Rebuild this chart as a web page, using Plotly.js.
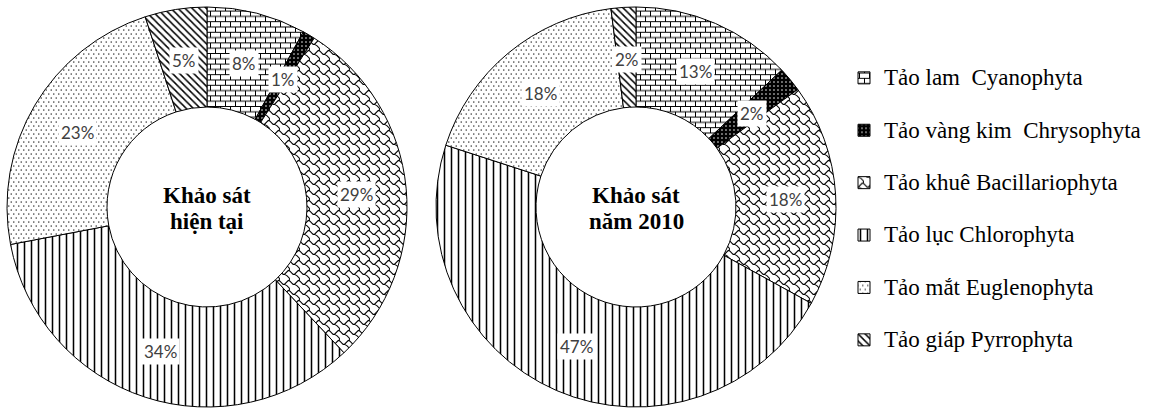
<!DOCTYPE html>
<html>
<head>
<meta charset="utf-8">
<script src="https://cdn.plot.ly/plotly-3.0.1.min.js"></script>
<style>
  html, body { margin: 0; padding: 0; background: #fff; }
  #chart { width: 1155px; height: 410px; }
</style>
</head>
<body>
<div id="chart"></div>
<script>
// Algae groups, in clockwise order from 12 o'clock
const categories = [
  'Tảo lam  Cyanophyta',
  'Tảo vàng kim  Chrysophyta',
  'Tảo khuê Bacillariophyta',
  'Tảo lục Chlorophyta',
  'Tảo mắt Euglenophyta',
  'Tảo giáp Pyrrophyta'
];
// Share of species (%) in each survey
const currentValues = [8, 1, 29, 34, 23, 5];
const values2010 = [13, 2, 18, 47, 18, 2];
const surveyTitles = [['Khảo sát', 'hiện tại'], ['Khảo sát', 'năm 2010']];

const W = 1155, H = 410;
const HOLE = 0.5;
// pixel boxes of the two rings
const boxes = [
  { x0: 7, x1: 407, y0: 7, y1: 407 },
  { x0: 436, x1: 836, y0: 7, y1: 407 }
];

// Fill patterns per group
const patShape = ['+', '.', 'x', '|', '.', '\\'];
const patBg = ['#ffffff', '#000000', '#ffffff', '#ffffff', '#ffffff', '#ffffff'];
const patFg = ['#000000', '#ffffff', '#000000', '#000000', '#000000', '#000000'];
const patSize = [10, 4, 10, 7, 4, 5];
const patSolidity = [0.1, 0.12, 0.1, 0.22, 0.09, 0.3];

const legendLabels = categories.map(c => '<span style="font-size:23px">' + c + '</span><br>&nbsp;');

const series = [currentValues, values2010];

const data = series.map((vals, k) => ({
  type: 'pie',
  values: vals,
  labels: legendLabels,
  sort: false,
  direction: 'clockwise',
  rotation: 0,
  hole: HOLE,
  textinfo: 'none',
  hoverinfo: 'skip',
  showlegend: k === 0,
  domain: {
    x: [boxes[k].x0 / W, boxes[k].x1 / W],
    y: [1 - boxes[k].y1 / H, 1 - boxes[k].y0 / H]
  },
  marker: {
    colors: patBg,
    line: { color: '#000000', width: 1 },
    pattern: {
      shape: patShape,
      bgcolor: patBg,
      fgcolor: patFg,
      size: patSize,
      solidity: patSolidity,
      fillmode: 'replace'
    }
  }
}));

// Percentage labels placed at the middle of each ring segment
const annotations = [];
series.forEach((vals, k) => {
  const b = boxes[k];
  const cx = (b.x0 + b.x1) / 2, cy = (b.y0 + b.y1) / 2;
  const R = (b.x1 - b.x0) / 2;
  const rl = R * (1 + HOLE) / 2;
  const total = vals.reduce((a, v) => a + v, 0);
  let cum = 0;
  vals.forEach(v => {
    const th = 2 * Math.PI * (cum + v / 2) / total;
    cum += v;
    const px = cx + rl * Math.sin(th);
    const py = cy - rl * Math.cos(th);
    annotations.push({
      xref: 'paper', yref: 'paper',
      x: px / W, y: 1 - py / H,
      xanchor: 'center', yanchor: 'middle',
      yshift: -2,
      text: v + '%',
      showarrow: false,
      bgcolor: '#ffffff',
      borderpad: 2,
      font: { family: 'Lato, "Open Sans", sans-serif', size: 17, color: '#404040' }
    });
  });
  // two-line title in the hole
  surveyTitles[k].forEach((line, j) => {
    annotations.push({
      xref: 'paper', yref: 'paper',
      x: cx / W, y: 1 - cy / H,
      xanchor: 'center', yanchor: 'middle',
      yshift: j === 0 ? 12 : -14,
      text: line,
      showarrow: false,
      font: { family: '"Liberation Serif", "Times New Roman", serif', size: 23, color: '#000000', weight: 700 }
    });
  });
});

const layout = {
  width: W, height: H,
  margin: { l: 0, r: 0, t: 0, b: 0 },
  paper_bgcolor: '#ffffff',
  plot_bgcolor: '#ffffff',
  showlegend: true,
  legend: {
    x: 844 / W, xanchor: 'left',
    y: 1 - 59 / H, yanchor: 'top',
    valign: 'top',
    bgcolor: 'rgba(0,0,0,0)',
    font: { family: '"Liberation Serif", "Times New Roman", serif', size: 19, color: '#000000' }
  },
  annotations: annotations
};

// Custom tiles for the brick, shingle and staggered-dot fills
function addTiles(gd) {
  const NS = 'http://www.w3.org/2000/svg';
  const svg = gd.querySelector('svg.main-svg');
  let defs = svg.querySelector('defs');
  if (!defs) { defs = document.createElementNS(NS, 'defs'); svg.insertBefore(defs, svg.firstChild); }
  function makePattern(id, w, h, inner) {
    const p = document.createElementNS(NS, 'pattern');
    p.setAttribute('id', id);
    p.setAttribute('patternUnits', 'userSpaceOnUse');
    p.setAttribute('width', w);
    p.setAttribute('height', h);
    p.innerHTML = inner;
    defs.appendChild(p);
  }
  makePattern('tile-brick', 10, 10.6,
    '<rect width="10" height="10.6" fill="#fff"/>' +
    '<path d="M0,0.5H10M0,5.8H10M0.5,0.5V5.8M5.5,5.8V10.6" stroke="#000" stroke-width="1" fill="none"/>');
  makePattern('tile-shingle', 10, 10,
    '<rect width="10" height="10" fill="#fff"/>' +
    '<g transform="scale(1.25)"><path d="M-0.5,0.5L0.5,1.5L2.5,3.5L3.5,3.5L6.5,0.5L7.5,0.5L8.5,1.5M3.5,3.5L5.5,4.5L7.5,6.5L7.5,8.5" stroke="#000" stroke-width="0.85" fill="none"/></g>');
  makePattern('tile-dots', 5, 8,
    '<rect width="5" height="8" fill="#fff"/>' +
    '<rect x="0.6" y="1.4" width="1.3" height="1.3" fill="#333"/>' +
    '<rect x="3.1" y="5.4" width="1.3" height="1.3" fill="#333"/>');
  const tileFor = { 0: 'url(#tile-brick)', 2: 'url(#tile-shingle)', 4: 'url(#tile-dots)' };
  gd.querySelectorAll('.pielayer .trace').forEach(tr => {
    tr.querySelectorAll('g.slice').forEach((g, i) => {
      if (tileFor[i]) {
        const path = g.querySelector('path.surface');
        if (path) path.style.fill = tileFor[i];
      }
    });
  });
  gd.querySelectorAll('.legend .traces').forEach((t, i) => {
    if (tileFor[i]) {
      t.querySelectorAll('.legendpoints path').forEach(p => { p.style.fill = tileFor[i]; });
    }
  });
}

Plotly.newPlot('chart', data, layout, { staticPlot: true, displayModeBar: false }).then(addTiles);
</script>
</body>
</html>
